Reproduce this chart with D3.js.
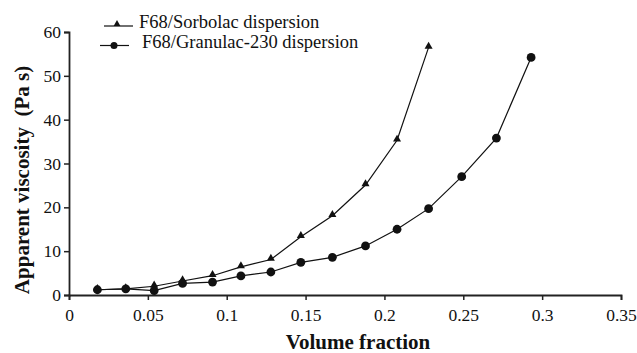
<!DOCTYPE html>
<html>
<head>
<meta charset="utf-8">
<script src="https://cdn.jsdelivr.net/npm/d3@7"></script>
<style>
  body { margin: 0; background: #fff; }
</style>
</head>
<body>
<div id="chart"></div>
<script>
// volume fraction for each measured point
const fractions = [0.018, 0.036, 0.054, 0.072, 0.091, 0.109, 0.128, 0.147, 0.167, 0.188, 0.208, 0.228, 0.249, 0.271, 0.293];
// apparent viscosity (Pa s)
const sorbolac = [1.2, 1.4, 2.0, 3.2, 4.4, 6.4, 8.1, 13.3, 18.1, 25.1, 35.3, 56.5];
const granulac = [1.2, 1.4, 1.0, 2.65, 2.95, 4.35, 5.25, 7.45, 8.6, 11.2, 15.0, 19.7, 27.0, 35.8, 54.2];
const xTicks = [0, 0.05, 0.1, 0.15, 0.2, 0.25, 0.3, 0.35];
const yTicks = [0, 10, 20, 30, 40, 50, 60];
const seriesNames = ["F68/Sorbolac dispersion", "F68/Granulac-230 dispersion"];

const FONT = '"Liberation Serif", "Times New Roman", serif';
const width = 637, height = 353;
const margin = { top: 32, right: 16, bottom: 58, left: 69 };

const svg = d3.select("#chart").append("svg")
    .attr("width", width)
    .attr("height", height);

const x = d3.scaleLinear().domain([0, 0.35]).range([margin.left, width - margin.right]);
const y = d3.scaleLinear().domain([0, 60]).range([height - margin.bottom, margin.top]);

// axes
const xAxis = svg.append("g")
    .attr("transform", `translate(0,${height - margin.bottom})`)
    .call(d3.axisBottom(x).tickValues(xTicks).tickFormat(d => String(d)).tickSize(5).tickPadding(8.5));
const yAxis = svg.append("g")
    .attr("transform", `translate(${margin.left},0)`)
    .call(d3.axisLeft(y).tickValues(yTicks).tickSize(5).tickPadding(3));

[xAxis, yAxis].forEach(g => {
    g.select(".domain").attr("stroke", "#222").attr("stroke-width", 1.8);
    g.selectAll(".tick line").attr("stroke", "#222").attr("stroke-width", 1.5);
    g.selectAll(".tick text")
        .style("font-family", FONT)
        .style("font-size", "17.5px")
        .attr("fill", "#111");
});

// axis titles
svg.append("text")
    .attr("x", 358)
    .attr("y", 349)
    .attr("text-anchor", "middle")
    .style("font-family", FONT)
    .style("font-size", "21px")
    .style("font-weight", "bold")
    .attr("fill", "#111")
    .text("Volume fraction");

svg.append("text")
    .attr("transform", "translate(29,180) rotate(-90)")
    .attr("text-anchor", "middle")
    .style("font-family", FONT)
    .style("font-size", "21px")
    .style("font-weight", "bold")
    .style("white-space", "pre")
    .attr("fill", "#111")
    .text("Apparent viscosity  (Pa s)");

const line = d3.line().x(d => x(d[0])).y(d => y(d[1]));
const sorbData = sorbolac.map((v, i) => [fractions[i], v]);
const granData = granulac.map((v, i) => [fractions[i], v]);

const tri = d3.symbol().type(d3.symbolTriangle).size(28);

// Sorbolac series
svg.append("path").datum(sorbData)
    .attr("d", line).attr("fill", "none").attr("stroke", "#111").attr("stroke-width", 1.2);
svg.append("g").selectAll("path")
    .data(sorbData).enter().append("path")
    .attr("d", tri)
    .attr("transform", d => `translate(${x(d[0])},${y(d[1]) - 1})`)
    .attr("fill", "#111");

// Granulac series
svg.append("path").datum(granData)
    .attr("d", line).attr("fill", "none").attr("stroke", "#111").attr("stroke-width", 1.2);
svg.append("g").selectAll("circle")
    .data(granData).enter().append("circle")
    .attr("cx", d => x(d[0]))
    .attr("cy", d => y(d[1]))
    .attr("r", 4.4)
    .attr("fill", "#111");

// legend
const legend = svg.append("g");
legend.append("line").attr("x1", 104).attr("x2", 133).attr("y1", 26).attr("y2", 26)
    .attr("stroke", "#111").attr("stroke-width", 1.2);
legend.append("path").attr("d", d3.symbol().type(d3.symbolTriangle).size(20))
    .attr("transform", "translate(117,24)").attr("fill", "#111");
legend.append("text").attr("x", 139).attr("y", 28)
    .style("font-family", FONT).style("font-size", "18.5px").attr("fill", "#111")
    .text(seriesNames[0]);

legend.append("line").attr("x1", 100).attr("x2", 129).attr("y1", 45.5).attr("y2", 45.5)
    .attr("stroke", "#111").attr("stroke-width", 1.2);
legend.append("circle").attr("cx", 114).attr("cy", 45.5).attr("r", 3.5).attr("fill", "#111");
legend.append("text").attr("x", 142).attr("y", 48)
    .style("font-family", FONT).style("font-size", "18.5px").attr("fill", "#111")
    .text(seriesNames[1]);
</script>
</body>
</html>
